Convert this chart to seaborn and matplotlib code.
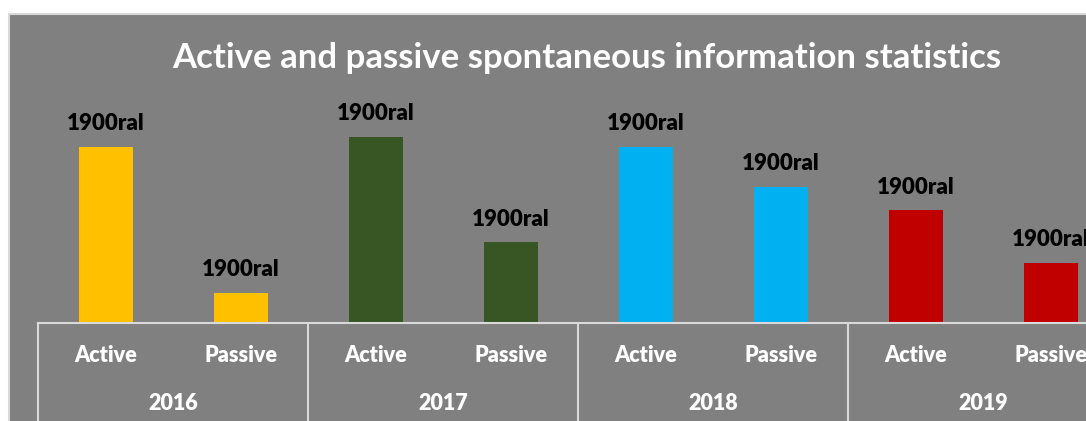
import matplotlib
matplotlib.use("Agg")
import matplotlib.pyplot as plt
import matplotlib.patches as patches
import seaborn as sns
import pandas as pd

# data (bar heights, arbitrary units)
years = ["2016", "2017", "2018", "2019"]
kinds = ["Active", "Passive"]
active_vals = [176, 186, 176, 113]
passive_vals = [30, 81, 136, 60]
bar_labels = ["1900ral"] * 8
year_colors = ["#FFC000", "#375623", "#00B0F0", "#C00000"]

rows = []
for i, y in enumerate(years):
    rows.append({"slot": f"{y} Active", "year": y, "kind": "Active", "value": active_vals[i]})
    rows.append({"slot": f"{y} Passive", "year": y, "kind": "Passive", "value": passive_vals[i]})
df = pd.DataFrame(rows)

W, H = 1086, 421
fig = plt.figure(figsize=(W / 100, H / 100), dpi=100, facecolor="white")

# gray chart area with light border, cut off on the right and bottom like the reference
bg = patches.Rectangle((9 / W, -0.05), 1.1, (H - 14) / H + 0.05, transform=fig.transFigure,
                       facecolor="#808080", edgecolor="#D9D9D9", linewidth=1.5, zorder=-10)
fig.patches.append(bg)

ax = fig.add_axes([38 / W, 98 / H, 1080 / W, 223 / H])
ax.set_facecolor("none")
ax.set_zorder(1)

sns.barplot(data=df, x="slot", y="value", hue="year", palette=year_colors,
            dodge=False, width=0.4, legend=False, ax=ax, saturation=1)
ax.set_xlim(-0.5, 7.5)
ax.set_ylim(0, 223)

for c, lab in zip(ax.containers, [bar_labels[0:2], bar_labels[2:4], bar_labels[4:6], bar_labels[6:8]]):
    ax.bar_label(c, labels=lab[:len(c)], padding=9, fontsize=16,
                 fontweight="heavy", color="black", family="Lato")

for s in ["top", "right", "left"]:
    ax.spines[s].set_visible(False)
ax.spines["bottom"].set_color("#D9D9D9")
ax.spines["bottom"].set_linewidth(1.5)
ax.set_yticks([])
ax.set_xlabel("")
ax.set_ylabel("")
ax.tick_params(axis="x", length=0)
ax.set_xticks(range(8))
ax.set_xticklabels([k for _ in years for k in kinds], color="white", fontsize=15.5,
                   fontweight="heavy", family="Lato")
ax.tick_params(axis="x", pad=16)

# year group labels and separators below the axis
trans = ax.get_xaxis_transform()
for i, y in enumerate(years):
    ax.text(2 * i + 0.5, -80 / 223, y, transform=trans, ha="center", va="center",
            color="white", fontsize=15.5, fontweight="heavy", family="Lato", clip_on=False)
    ax.plot([2 * i - 0.5, 2 * i - 0.5], [0, -110 / 223], transform=trans,
            color="#D9D9D9", lw=1.5, clip_on=False)

fig.text(587 / W, 1 - 58 / H, "Active and passive spontaneous information statistics",
         ha="center", va="center", color="white", fontsize=25, fontweight="bold", family="Lato")

fig.savefig("out.png", dpi=100, facecolor="white")
